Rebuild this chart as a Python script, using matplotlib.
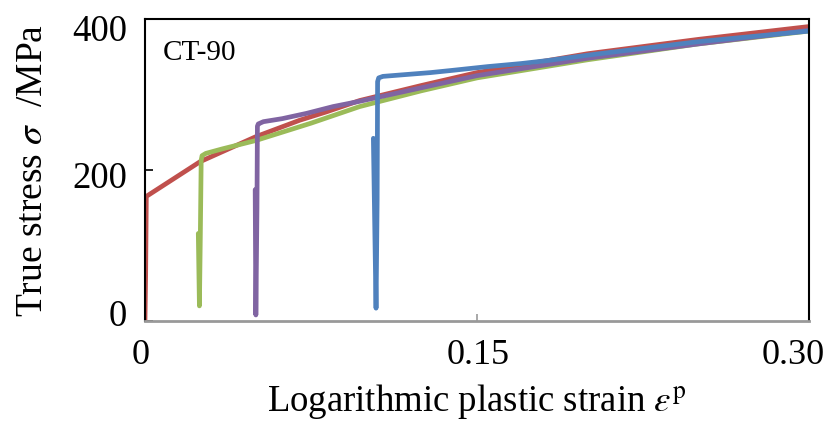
import matplotlib
matplotlib.use("Agg")
import matplotlib.pyplot as plt
import matplotlib.transforms as mtransforms

plt.rcParams['font.family'] = ['Liberation Serif', 'DejaVu Serif']
plt.rcParams['mathtext.fontset'] = 'stix'

# Loading / reloading curves (logarithmic plastic strain, true stress in MPa)
red_strain = [0.0, 0.0003, 0.0006, 0.0249, 0.050, 0.070, 0.082, 0.097, 0.125, 0.150, 0.200, 0.250, 0.300]
red_stress = [0, 60, 165, 211, 244, 266, 277, 292, 312, 329, 354, 373, 390]

green_strain = [0.0241, 0.0246, 0.0250, 0.0254, 0.0258, 0.0275, 0.035, 0.050, 0.075, 0.097, 0.125, 0.150, 0.200, 0.250, 0.300]
green_stress = [116, 20, 110, 213, 219, 222, 228, 239, 262, 284, 305, 322, 346, 367, 384]

purple_strain = [0.0498, 0.0501, 0.0506, 0.0508, 0.0512, 0.0535, 0.062, 0.073, 0.085, 0.097, 0.125, 0.150, 0.200, 0.250, 0.300]
purple_stress = [174, 8, 150, 258, 261, 264, 268, 275, 284, 291, 309, 325, 348, 367, 385]

blue_strain = [0.1032, 0.1044, 0.1049, 0.1051, 0.1056, 0.1075, 0.116, 0.129, 0.139, 0.155, 0.170, 0.182, 0.2025, 0.250, 0.300]
blue_stress = [242, 17, 160, 317, 322, 324, 326, 329, 332, 337, 341, 345, 353, 370, 384]

x_ticks = [0.0, 0.15, 0.30]
x_tick_labels = ['0', '0.15', '0.30']
y_ticks = [0, 200, 400]
y_tick_labels = ['0', '200', '400']

series = [
    (red_strain, red_stress, '#C0504D'),
    (green_strain, green_stress, '#9BBB59'),
    (purple_strain, purple_stress, '#8064A2'),
    (blue_strain, blue_stress, '#4F81BD'),
]

fig = plt.figure(figsize=(8.37, 4.25), dpi=100)
ax = fig.add_axes([0.1732, 0.2447, 0.7933, 0.7106])

for xs, ys, c in series:
    ax.plot(xs, ys, color=c, lw=3.4, solid_joinstyle='round', solid_capstyle='round')

ax.set_xlim(0, 0.30)
ax.set_ylim(0, 400)

ax.set_xticks(x_ticks)
ax.set_xticklabels(x_tick_labels)
ax.set_yticks(y_ticks)
ax.set_yticklabels(y_tick_labels)

ax.tick_params(axis='x', direction='in', length=5, width=1.2, color='#999999',
               labelsize=26, pad=13)
ax.tick_params(axis='y', direction='in', length=6, width=1.2, color='black',
               labelsize=26.5, pad=13)

# nudge tick labels the way the original layout spaces them
for lab, dy in zip(ax.get_yticklabels(), [8, -5, -9]):
    lab.set_transform(lab.get_transform() +
                      mtransforms.ScaledTranslation(0, dy / 100, fig.dpi_scale_trans))
for lab, dx in zip(ax.get_xticklabels(), [-4, 1, -16]):
    lab.set_transform(lab.get_transform() +
                      mtransforms.ScaledTranslation(dx / 100, 0, fig.dpi_scale_trans))

for side in ['left', 'top', 'right']:
    ax.spines[side].set_color('black')
    ax.spines[side].set_linewidth(1.5)
ax.spines['bottom'].set_color('#999999')
ax.spines['bottom'].set_linewidth(2.0)

ax.set_xlabel(r'Logarithmic plastic strain $\varepsilon^{\rm p}$', fontsize=26.5, labelpad=7)
ax.set_ylabel(r'True stress $\sigma$  /MPa', fontsize=27, labelpad=16)

ax.text(0.027, 0.93, 'CT-90', transform=ax.transAxes, fontsize=21,
        ha='left', va='top')

fig.savefig('out.png', dpi=100)
